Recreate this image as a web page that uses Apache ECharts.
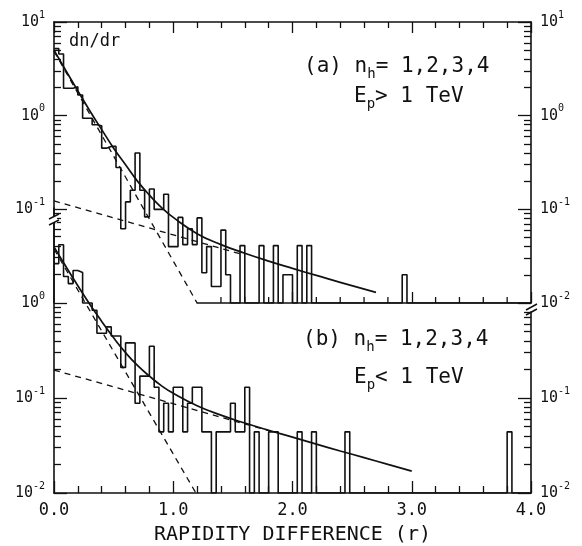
<!DOCTYPE html>
<html><head><meta charset="utf-8">
<script src="https://cdn.jsdelivr.net/npm/echarts@6/dist/echarts.min.js"></script>
<style>html,body{margin:0;padding:0;background:#fff}#c{width:582px;height:546px}</style>
</head><body><div id="c"></div>
<script>
// ---------- data ----------
const binWidth = 0.04;          // rapidity bin width
// panel (a): n_h = 1,2,3,4, Ep > 1 TeV  (dn/dr per bin, 0 = empty bin)
const histA = [
  5.2, 4.55, 1.96, 1.96, 2.04, 1.66, 0.94, 0.94, 0.80, 0.78,
  0.45, 0.47, 0.47, 0.28, 0.062, 0.12, 0.16, 0.40, 0.16, 0.083,
  0.165, 0.10, 0.10, 0.145, 0.04, 0.04, 0.082, 0.042, 0.062, 0.042,
  0.081, 0.021, 0.040, 0.015, 0.015, 0.06, 0.02, 0, 0, 0.041,
  0, 0, 0, 0.041, 0, 0, 0.041, 0, 0.02, 0.02,
  0, 0.041, 0, 0.041, 0, 0, 0, 0, 0, 0,
  0, 0, 0, 0, 0, 0, 0, 0, 0, 0,
  0, 0, 0, 0.02, 0, 0, 0, 0, 0, 0,
  0, 0, 0, 0, 0, 0, 0, 0, 0, 0,
  0, 0, 0, 0, 0, 0, 0, 0, 0, 0
];
// panel (b): n_h = 1,2,3,4, Ep < 1 TeV
const histB = [
  2.6, 4.1, 1.9, 1.6, 2.2, 2.1, 1.0, 1.0, 0.84, 0.48,
  0.48, 0.56, 0.45, 0.45, 0.21, 0.38, 0.38, 0.088, 0.17, 0.17,
  0.35, 0.13, 0.044, 0.088, 0.044, 0.13, 0.13, 0.044, 0.088, 0.13,
  0.13, 0.044, 0.044, 0, 0.044, 0.044, 0.044, 0.088, 0.044, 0.044,
  0.13, 0, 0.044, 0, 0, 0.044, 0.044, 0, 0, 0,
  0, 0.044, 0, 0, 0.044, 0, 0, 0, 0, 0,
  0, 0.044, 0, 0, 0, 0, 0, 0, 0, 0,
  0, 0, 0, 0, 0, 0, 0, 0, 0, 0,
  0, 0, 0, 0, 0, 0, 0, 0, 0, 0,
  0, 0, 0, 0, 0, 0.044, 0, 0, 0, 0
];
// fitted curves (solid = sum of the two dashed components)
const fitA_r = [0, 0.1, 0.2, 0.3, 0.4, 0.5, 0.6, 0.7, 0.8, 0.9, 1.0, 1.2, 1.4, 1.6, 1.8, 2.0, 2.2, 2.4, 2.7];
const fitA   = [5.0, 3.02, 1.84, 1.13, 0.71, 0.45, 0.30, 0.20, 0.142, 0.105, 0.082, 0.055, 0.042, 0.034, 0.028, 0.0234, 0.0197, 0.0166, 0.013];
const steepA_r = [0, 1.2];  const steepA = [4.88, 0.01];
const flatA_r  = [0, 1.6];  const flatA  = [0.123, 0.0324];

const fitB_r = [0, 0.1, 0.2, 0.3, 0.4, 0.5, 0.6, 0.7, 0.8, 0.9, 1.0, 1.2, 1.4, 1.6, 1.8, 2.0, 2.2, 2.4, 2.6, 2.8, 3.0];
const fitB   = [3.9, 2.42, 1.52, 0.97, 0.64, 0.43, 0.30, 0.22, 0.17, 0.135, 0.112, 0.083, 0.066, 0.0545, 0.0457, 0.0387, 0.0327, 0.0277, 0.0236, 0.020, 0.017];
const steepB_r = [0, 1.19]; const steepB = [3.7, 0.01];
const flatB_r  = [0, 1.8];  const flatB  = [0.197, 0.0453];

const xTickLabels = ['0.0', '1.0', '2.0', '3.0', '4.0'];
const lowerMinorTicksA = [1.4, 1.6, 1.8, 2.2, 2.4, 2.6, 2.8, 3.2, 3.4, 3.6, 3.8];
const xAxisTitle = 'RAPIDITY DIFFERENCE (r)';
const yTitle = 'dn/dr';

// ---------- helpers ----------
const FLOOR = -2; // log10 of the 10^-2 baseline; empty bins are drawn on it
const lg = v => (v > 0 ? Math.log10(v) : FLOOR);
function histPoints(vals) {
  const pts = vals.map((v, i) => [i * binWidth, lg(v)]);
  pts.push([vals.length * binWidth, lg(vals[vals.length - 1])]);
  return pts;
}
const curvePoints = (rs, vs) => rs.map((r, i) => [r, lg(vs[i])]);
function minors(lo, hi) {
  const out = [];
  for (let n = -3; n <= 1; n++) for (let k = 2; k <= 9; k++) {
    const v = n + Math.log10(k);
    if (v > lo && v < hi) out.push(v);
  }
  return out;
}

const FONT = '"DejaVu Sans Mono"';
const INK = '#111';
const pow10Label = {
  formatter: v => '{b|10}{s|' + Math.round(v) + '}',
  rich: {
    b: { fontSize: 15, lineHeight: 24, fontFamily: FONT, color: INK },
    s: { fontSize: 10, lineHeight: 12, verticalAlign: 'top', fontFamily: FONT, color: INK }
  },
  margin: 9
};
const lineAx = () => ({ show: true, onZero: false, lineStyle: { color: INK, width: 1.6 } });
const noLine = () => ({ show: false, onZero: false });
const tickStyle = () => ({ color: INK, width: 1.3 });
function yAx(grid, pos, min, max, tickVals, tickLen, labelVals, showLine) {
  return {
    type: 'value', gridIndex: grid, position: pos, min: min, max: max,
    axisLine: showLine ? lineAx() : noLine(),
    axisTick: { show: true, inside: true, length: tickLen, customValues: tickVals, lineStyle: tickStyle() },
    axisLabel: labelVals ? Object.assign({ show: true, customValues: labelVals }, pow10Label) : { show: false },
    splitLine: { show: false }
  };
}
const hiddenY = g => ({ type: 'value', gridIndex: g, min: -2, max: 1, axisLine: noLine(), axisTick: { show: false }, axisLabel: { show: false }, splitLine: { show: false } });

const xPx = (531 - 54) / 4;
const richSub = { t: { fontSize: 21, lineHeight: 28, fontFamily: FONT, fill: INK }, u: { fontSize: 14, lineHeight: 14, verticalAlign: 'bottom', fontFamily: FONT, fill: INK } };

const option = {
  animation: false,
  backgroundColor: '#fff',
  grid: [
    { outerBoundsMode: 'none', left: 54, right: 51, top: 22, bottom: 243 },              // 0 panel (a)
    { outerBoundsMode: 'none', left: 54, right: 51, top: 208, bottom: 53 },              // 1 panel (b)
    { outerBoundsMode: 'none', left: 54 + 1.2 * xPx, right: 51, top: 22, bottom: 243 },  // 2 (a) lower axis line
    { outerBoundsMode: 'none', left: 54, right: 51, top: 312, bottom: 53 },              // 3 (b) right axis
    { outerBoundsMode: 'none', left: 54 + 2 * xPx, right: 51, top: 22, bottom: 243 }     // 4 (a) lower axis major ticks 2..4
  ],
  xAxis: [
    { type: 'value', gridIndex: 0, position: 'top', min: 0, max: 4, interval: 1,
      axisLine: lineAx(), axisLabel: { show: false }, splitLine: { show: false },
      axisTick: { show: true, inside: true, length: 11, lineStyle: tickStyle() },
      minorTick: { show: true, splitNumber: 5, length: 6, lineStyle: tickStyle() } },
    { type: 'value', gridIndex: 1, position: 'bottom', min: 0, max: 4, interval: 1,
      axisLine: lineAx(), splitLine: { show: false },
      axisTick: { show: true, inside: true, length: 12, lineStyle: tickStyle() },
      minorTick: { show: true, splitNumber: 5, length: 7, lineStyle: tickStyle() },
      axisLabel: { formatter: v => xTickLabels[Math.round(v)], fontSize: 17, fontFamily: FONT, color: INK, margin: 9 },
      name: xAxisTitle, nameLocation: 'middle', nameGap: 32,
      nameTextStyle: { fontSize: 20, fontFamily: FONT, color: INK } },
    { type: 'value', gridIndex: 2, position: 'bottom', min: 1.2, max: 4,
      axisLine: lineAx(), axisLabel: { show: false }, splitLine: { show: false }, axisTick: { show: false } },
    { type: 'value', gridIndex: 3, min: 0, max: 4, axisLine: noLine(), axisTick: { show: false }, axisLabel: { show: false }, splitLine: { show: false } },
    { type: 'value', gridIndex: 4, position: 'bottom', min: 2, max: 4, interval: 1,
      axisLine: noLine(), axisLabel: { show: false }, splitLine: { show: false },
      axisTick: { show: true, inside: true, length: 11, lineStyle: tickStyle() } }
  ],
  yAxis: [
    yAx(0, 'left', -2, 1, [-1, 0, 1], 13, [-1, 0, 1], true),           // 0
    yAx(0, 'left', -2, 1, minors(-1.11, 1), 7, null, false),           // 1
    yAx(0, 'right', -2, 1, [-2, -1, 0, 1], 13, [-2, -1, 0, 1], true),  // 2
    yAx(0, 'right', -2, 1, minors(-2, 1), 7, null, false),             // 3
    yAx(1, 'left', -2, 1, [-2, -1, 0], 13, [-2, -1, 0], true),         // 4
    yAx(1, 'left', -2, 1, minors(-2, 0.86), 7, null, false),           // 5
    yAx(3, 'right', -2, -0.095, [-2, -1], 13, [-2, -1], true),         // 6
    yAx(3, 'right', -2, -0.095, minors(-2, -0.095), 7, null, false),   // 7
    hiddenY(2), hiddenY(4)                                             // 8, 9
  ],
  series: [
    { type: 'line', xAxisIndex: 0, yAxisIndex: 0, step: 'end', symbol: 'none', data: histPoints(histA),
      lineStyle: { color: INK, width: 1.6 } },
    { type: 'line', xAxisIndex: 0, yAxisIndex: 0, smooth: true, symbol: 'none', data: curvePoints(fitA_r, fitA),
      lineStyle: { color: INK, width: 1.7 } },
    { type: 'line', xAxisIndex: 0, yAxisIndex: 0, symbol: 'none', data: curvePoints(steepA_r, steepA),
      lineStyle: { color: INK, width: 1.3, type: [6, 5] } },
    { type: 'line', xAxisIndex: 0, yAxisIndex: 0, symbol: 'none', data: curvePoints(flatA_r, flatA),
      lineStyle: { color: INK, width: 1.3, type: [6, 5] } },
    { type: 'line', xAxisIndex: 1, yAxisIndex: 4, step: 'end', symbol: 'none', data: histPoints(histB),
      lineStyle: { color: INK, width: 1.6 } },
    { type: 'line', xAxisIndex: 1, yAxisIndex: 4, smooth: true, symbol: 'none', data: curvePoints(fitB_r, fitB),
      lineStyle: { color: INK, width: 1.7 } },
    { type: 'line', xAxisIndex: 1, yAxisIndex: 4, symbol: 'none', data: curvePoints(steepB_r, steepB),
      lineStyle: { color: INK, width: 1.3, type: [6, 5] } },
    { type: 'line', xAxisIndex: 1, yAxisIndex: 4, symbol: 'none', data: curvePoints(flatB_r, flatB),
      lineStyle: { color: INK, width: 1.3, type: [6, 5] } }
  ],
  graphic: [
    { type: 'text', x: 69, y: 42, style: { text: yTitle, font: '17px "DejaVu Sans Mono"', fill: INK, verticalAlign: 'middle' } },
    { type: 'text', x: 304, y: 67, style: { text: '{t|(a) n}{u|h}{t|= 1,2,3,4}', verticalAlign: 'middle', fill: INK, rich: richSub } },
    { type: 'text', x: 354, y: 97, style: { text: '{t|E}{u|p}{t|> 1 TeV}', verticalAlign: 'middle', fill: INK, rich: richSub } },
    { type: 'text', x: 303, y: 340, style: { text: '{t|(b) n}{u|h}{t|= 1,2,3,4}', verticalAlign: 'middle', fill: INK, rich: richSub } },
    { type: 'text', x: 354, y: 378, style: { text: '{t|E}{u|p}{t|< 1 TeV}', verticalAlign: 'middle', fill: INK, rich: richSub } },
    // axis break marks
    { type: 'rect', shape: { x: 51, y: 217, width: 6, height: 6 }, style: { fill: '#fff' }, z: 50 },
    { type: 'line', shape: { x1: 49, y1: 219, x2: 59, y2: 214 }, style: { stroke: INK, lineWidth: 1.5 }, z: 51 },
    { type: 'line', shape: { x1: 49, y1: 225, x2: 59, y2: 220 }, style: { stroke: INK, lineWidth: 1.5 }, z: 51 },
    { type: 'line', shape: { x1: 526, y1: 310, x2: 537, y2: 304 }, style: { stroke: INK, lineWidth: 1.5 }, z: 51 },
    { type: 'line', shape: { x1: 526, y1: 315, x2: 537, y2: 309 }, style: { stroke: INK, lineWidth: 1.5 }, z: 51 }
  ]
};
const chart = echarts.init(document.getElementById('c'), null, { renderer: 'canvas' });
chart.setOption(option);

// minor ticks on the lower axis of panel (a), placed through panel (a)'s own scales
try {
  const tickMarks = [];
  lowerMinorTicksA.forEach(r => {
    const p = chart.convertToPixel({ xAxisIndex: 0, yAxisIndex: 0 }, [r, FLOOR]);
    if (p && isFinite(p[0]) && isFinite(p[1])) {
      tickMarks.push({ type: 'line', shape: { x1: p[0], y1: p[1], x2: p[0], y2: p[1] - 6 }, style: { stroke: INK, lineWidth: 1.3 }, z: 40 });
    }
  });
  if (tickMarks.length) chart.setOption({ graphic: option.graphic.concat(tickMarks) });
} catch (e) { /* keep the chart as drawn */ }
</script>
</body></html>
